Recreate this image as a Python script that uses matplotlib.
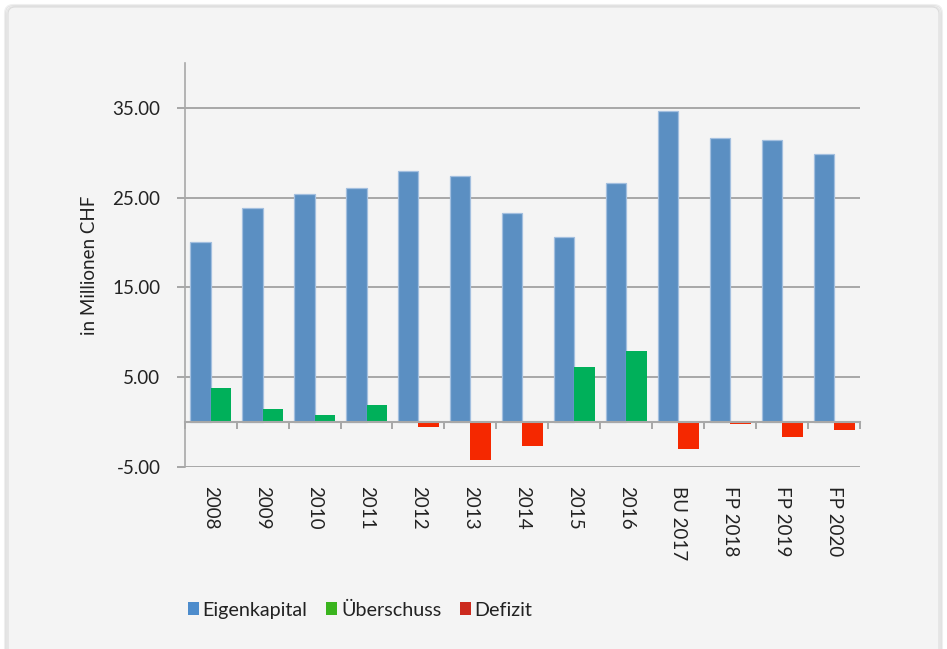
import numpy as np
import matplotlib
matplotlib.use("Agg")
import matplotlib.pyplot as plt
from matplotlib.patches import FancyBboxPatch, Patch

plt.rcParams['font.family'] = ['Lato', 'DejaVu Sans']

categories = ["2008", "2009", "2010", "2011", "2012", "2013", "2014", "2015",
              "2016", "BU 2017", "FP 2018", "FP 2019", "FP 2020"]
eigenkapital = [20.1, 23.9, 25.4, 26.1, 28.0, 27.4, 23.3, 20.6, 26.6, 34.6, 31.7, 31.4, 29.9]
ueberschuss = [3.8, 1.45, 0.78, 1.9, 0, 0, 0, 6.15, 7.93, 0, 0, 0, 0]
defizit = [0, 0, 0, 0, -0.52, -4.25, -2.68, 0, 0, -3.0, -0.19, -1.68, -0.9]
ytick_values = [-5, 5, 15, 25, 35]
ytick_labels = ["-5.00", "5.00", "15.00", "25.00", "35.00"]
series_names = ["Eigenkapital", "Überschuss", "Defizit"]

W, H = 947, 649
fig = plt.figure(figsize=(W / 100, H / 100), dpi=100)
fig.patch.set_facecolor("white")

# card background with gradient
bg = fig.add_axes([0, 0, 1, 1], zorder=-10)
bg.set_xlim(0, W)
bg.set_ylim(H, 0)
bg.axis("off")
for i, a in enumerate([0.05, 0.05, 0.06]):
    sh = FancyBboxPatch((7 - i, 7 - i), 933 + 2 * i, 660, boxstyle="round,pad=0,rounding_size=8",
                        fc="none", ec=(0, 0, 0, a), lw=1.5, transform=bg.transData)
    bg.add_patch(sh)
card = FancyBboxPatch((8, 7), 931, 660, boxstyle="round,pad=0,rounding_size=7",
                      fc="#f4f4f4", ec="#dcdcdc", lw=0.8, transform=bg.transData)
bg.add_patch(card)
grad = np.linspace(0, 1, 256).reshape(-1, 1)
top = np.array([0.962, 0.962, 0.962])
bot = np.array([0.905, 0.905, 0.905])
img = top + (bot - top) * grad[..., None] ** 1.5
im = bg.imshow(img, extent=[8, 939, H, 7], aspect="auto", zorder=0)
im.set_clip_path(card)

ax = fig.add_axes([184.7 / W, 1 - 467 / H, (860 - 184.7) / W, (467 - 63) / H])
ax.set_facecolor("none")

x = np.arange(len(categories))
w = 0.395
c_blue = "#5b8fc2"
c_green = "#00b05a"
c_red = "#f52800"
ax.bar(x - w / 2, eigenkapital, w, color=c_blue, edgecolor="#a3bfdf", linewidth=0.9, zorder=3)
ax.bar(x + w / 2, ueberschuss, w, color=c_green, linewidth=0, zorder=3)
ax.bar(x + w / 2, defizit, w, color=c_red, linewidth=0, zorder=3)

ax.set_xlim(-0.5, len(categories) - 0.5)
ax.set_ylim(-5, 40)

for s in ["top", "right"]:
    ax.spines[s].set_visible(False)
ax.spines["bottom"].set_position(("data", 0))
ax.spines["bottom"].set_color("#a8a8a8")
ax.spines["bottom"].set_linewidth(1.5)
ax.spines["bottom"].set_zorder(4)
ax.spines["left"].set_color("#a8a8a8")
ax.spines["left"].set_linewidth(1.2)

ax.set_yticks(ytick_values)
ax.set_yticklabels(ytick_labels, fontsize=13.5, color="#222222")
ax.tick_params(axis="y", length=5.5, color="#999999", width=1.2, pad=12)
ax.yaxis.grid(True, color="#9a9a9a", linewidth=1.2, zorder=1)
ax.set_axisbelow(True)

ax.set_xticks(x)
ax.set_xticklabels(categories, rotation=-90, fontsize=13.5, color="#222222", va="top", ha="center")
ax.set_xticks(np.arange(len(categories) + 1) - 0.5, minor=True)
ax.tick_params(axis="x", which="major", length=0, pad=46)
ax.tick_params(axis="x", which="minor", length=5, color="#999999", width=1.2, direction="out")

ax.set_ylabel("in Millionen CHF", fontsize=13.5, color="#222222", labelpad=10)

handles = [Patch(facecolor="#4d8ccc", edgecolor="none"),
           Patch(facecolor="#3ab41e", edgecolor="none"),
           Patch(facecolor="#cc2a1e", edgecolor="none")]
fig.legend(handles, series_names, loc="center left", bbox_to_anchor=(170 / W, 1 - 610 / H),
           ncol=3, frameon=False, fontsize=14.2, handlelength=0.55, handleheight=0.6,
           handletextpad=0.2, columnspacing=0.95, labelcolor="#222222")

fig.savefig("out.png", dpi=100, facecolor=fig.get_facecolor())
